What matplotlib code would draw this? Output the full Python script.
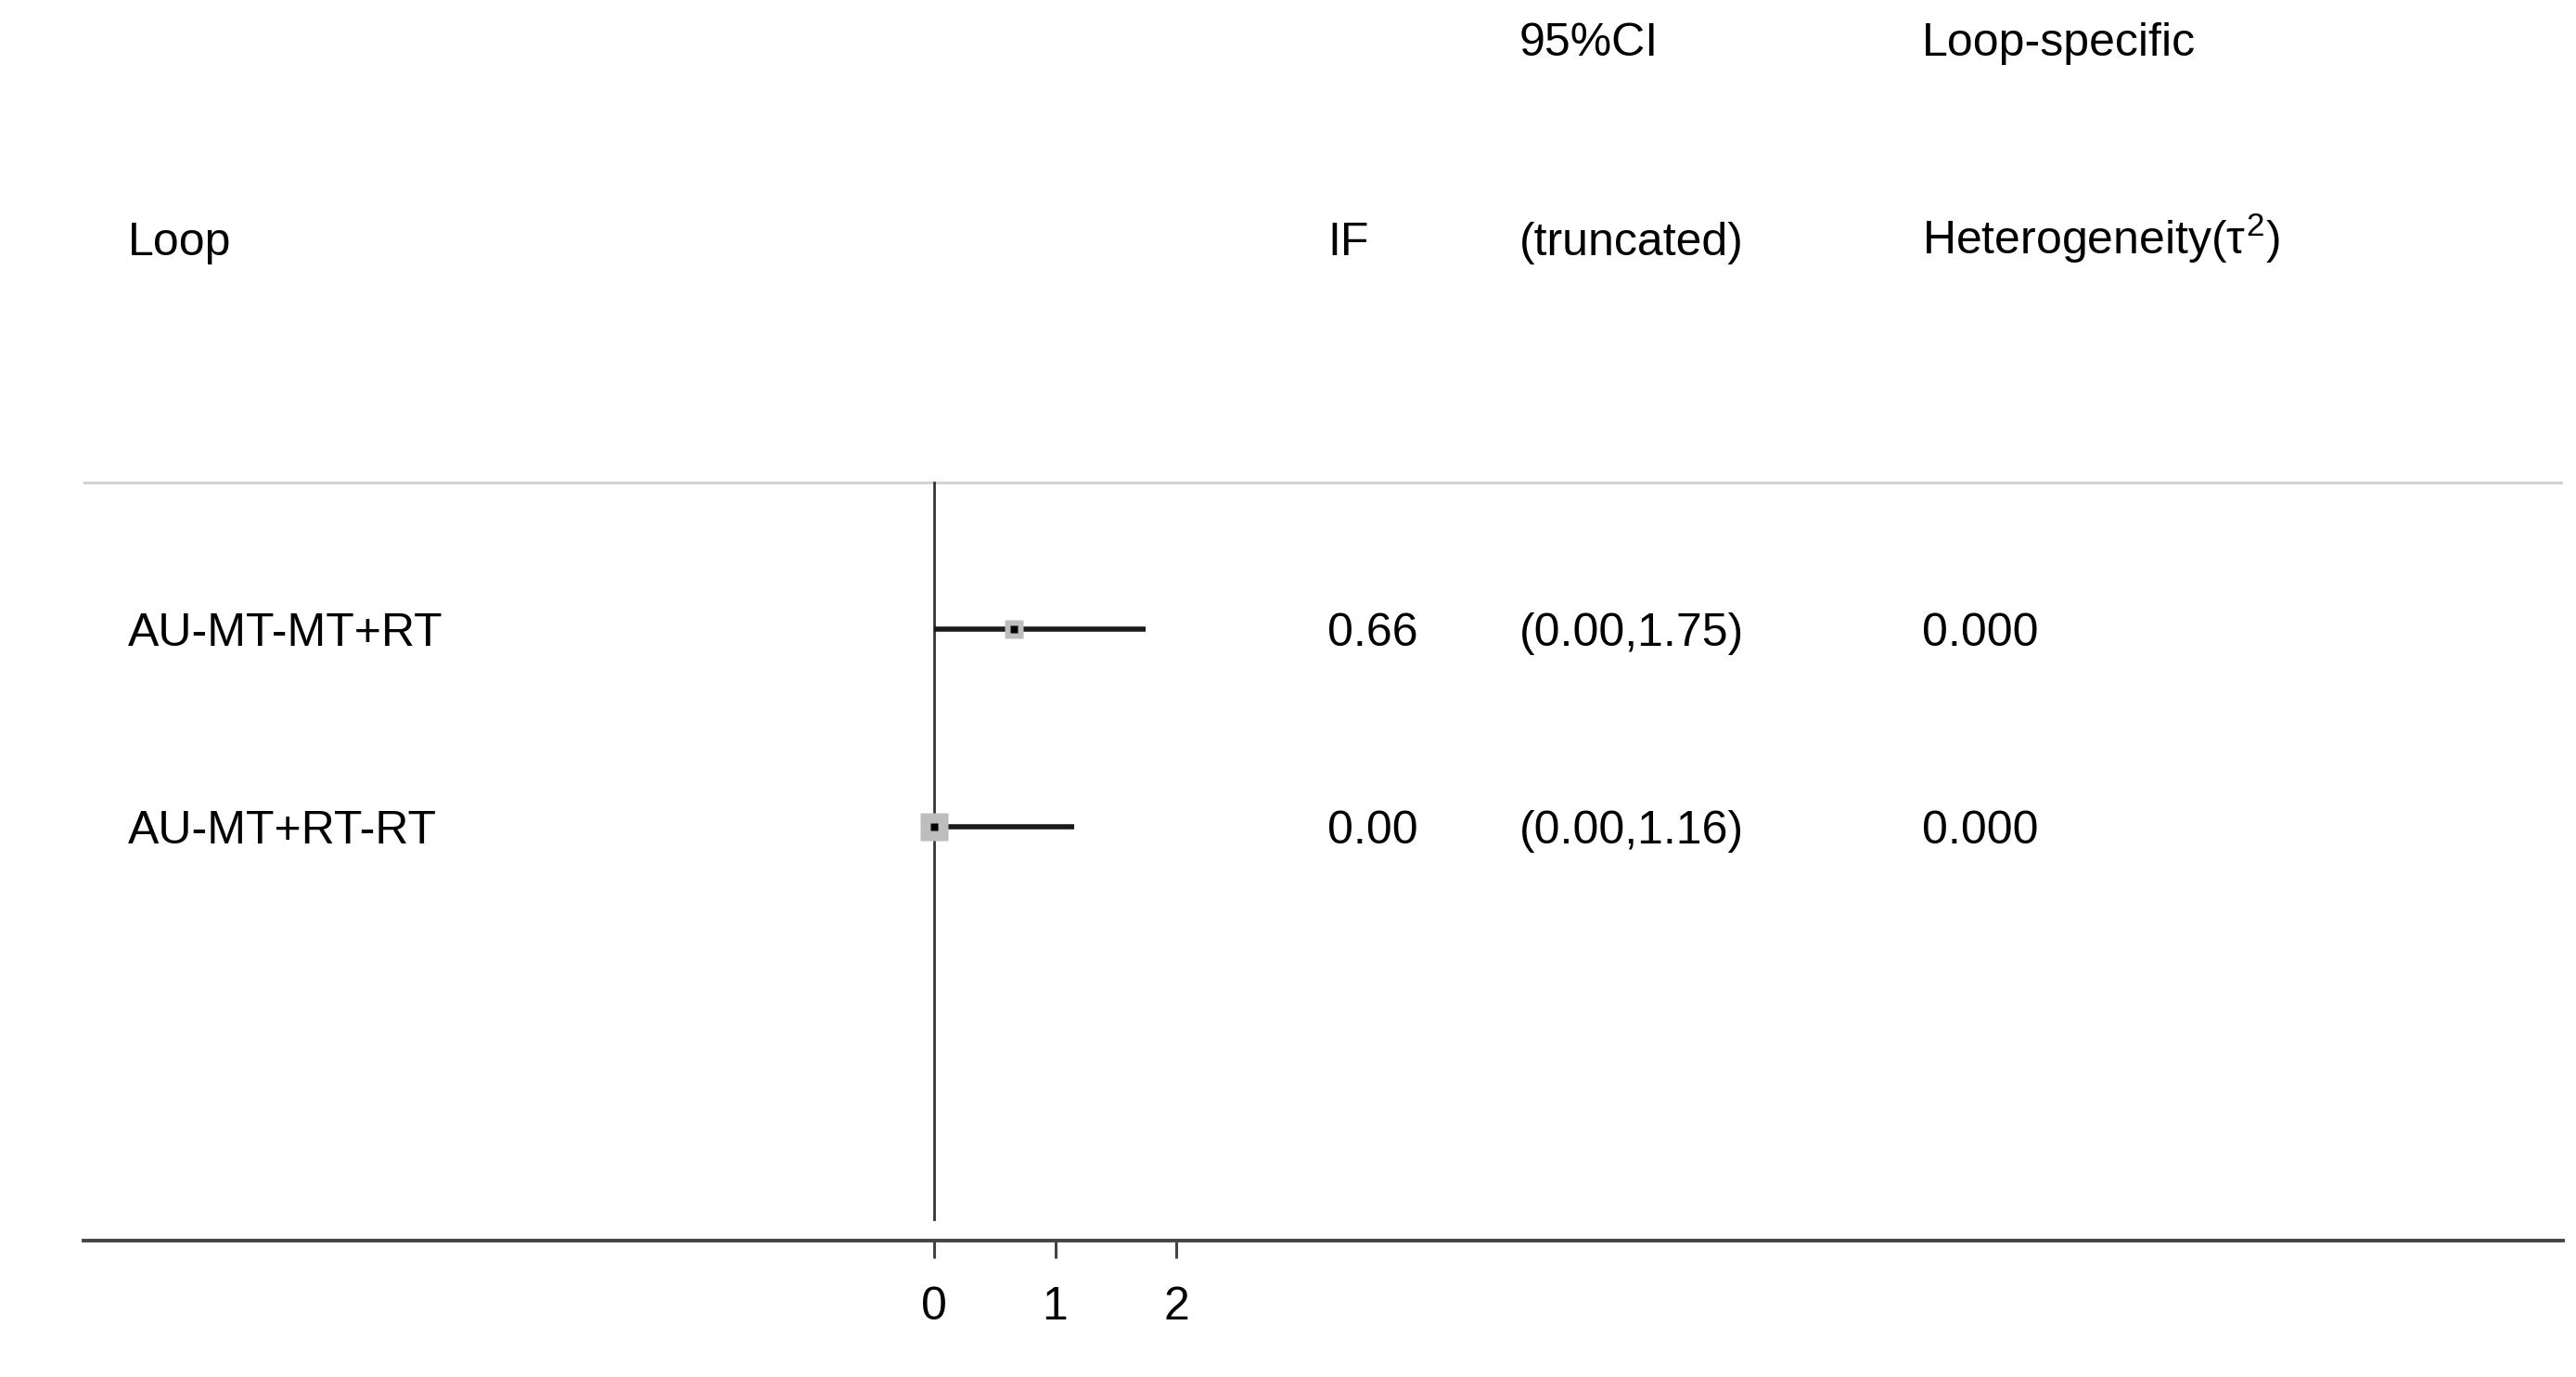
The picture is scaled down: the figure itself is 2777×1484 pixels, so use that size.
import matplotlib
matplotlib.use("Agg")
import matplotlib.pyplot as plt

plt.rcParams['font.family'] = ['Liberation Sans', 'DejaVu Sans']
plt.rcParams['mathtext.fontset'] = 'custom'
plt.rcParams['mathtext.rm'] = 'Liberation Sans'
plt.rcParams['mathtext.it'] = 'Liberation Sans'

# ---- data ----
loops = ["AU-MT-MT+RT", "AU-MT+RT-RT"]
if_values = [0.66, 0.00]
ci_low = [0.00, 0.00]
ci_high = [1.75, 1.16]
tau2 = [0.000, 0.000]
x_ticks = [0, 1, 2]

# ---- figure ----
W, H, DPI = 2777, 1484, 100
fig = plt.figure(figsize=(W / DPI, H / DPI), dpi=DPI)
ax = fig.add_axes([90 / W, (H - 1337) / H, (2763 - 90) / W, 1337 / H])

unit = 130.5
x0 = 1007
ax.set_xlim((90 - x0) / unit, (2763 - x0) / unit)
row_sp = 213.0
ax.set_ylim(1 + (1337 - 678) / row_sp, 1 - 678 / row_sp)

FS = 36
toff = 5 / row_sp  # small downward text nudge
marker_sizes = [15, 21]  # style: square size per row (points)

rows = list(range(1, len(loops) + 1))
for r, lab, est, lo, hi, t, ms in zip(rows, loops, if_values, ci_low, ci_high, tau2, marker_sizes):
    ax.plot([lo, hi], [r, r], color='#1a1a1a', lw=4.0, solid_capstyle='butt', zorder=3)
    ax.plot([est], [r], marker='s', ms=ms, color='#bdbdbd', mec='none', zorder=4)
    ax.plot([est], [r], marker='s', ms=5.5, color='black', mec='none', zorder=5)
    ty = r + toff
    ax.text((138 - x0) / unit, ty, lab, fontsize=FS, va='center', ha='left')
    ax.text((1431 - x0) / unit, ty, f"{est:.2f}", fontsize=FS, va='center', ha='left')
    ax.text((1638 - x0) / unit, ty, f"({lo:.2f},{hi:.2f})", fontsize=FS, va='center', ha='left')
    ax.text((2072 - x0) / unit, ty, f"{t:.3f}", fontsize=FS, va='center', ha='left')

# headers
y_h2 = 1 - (678 - 257) / row_sp + toff
y_h1 = 1 - (678 - 42) / row_sp + toff
ax.text((138 - x0) / unit, y_h2, "Loop", fontsize=FS, va='center', ha='left')
ax.text((1431 - x0) / unit, y_h2, "IF", fontsize=FS, va='center', ha='left')
ax.text((1638 - x0) / unit, y_h1, "95%CI", fontsize=FS, va='center', ha='left')
ax.text((1638 - x0) / unit, y_h2, "(truncated)", fontsize=FS, va='center', ha='left')
ax.text((2072 - x0) / unit, y_h1, "Loop-specific", fontsize=FS, va='center', ha='left')
ax.text((2072 - x0) / unit, y_h2 - 5 / row_sp, r"Heterogeneity($\tau^{2}$)", fontsize=FS, va='center', ha='left')

# separator line and null line
y_sep = 1 - (678 - 520) / row_sp
ax.axhline(y_sep, color='#d3d3d3', lw=2.2, zorder=1)
y_end = 1 + (1314 - 678) / row_sp
ax.plot([0, 0], [y_sep, y_end], color='#333333', lw=2.0, zorder=2)

# axes styling
for s in ['top', 'right', 'left']:
    ax.spines[s].set_visible(False)
ax.spines['bottom'].set_color('#444444')
ax.spines['bottom'].set_linewidth(2.8)
ax.set_yticks([])
ax.set_xticks(x_ticks)
ax.set_xticklabels([str(v) for v in x_ticks])
ax.tick_params(axis='x', length=14, width=2.2, color='#444444', pad=21, labelsize=FS)

fig.savefig("out.png", dpi=DPI, facecolor='white')
